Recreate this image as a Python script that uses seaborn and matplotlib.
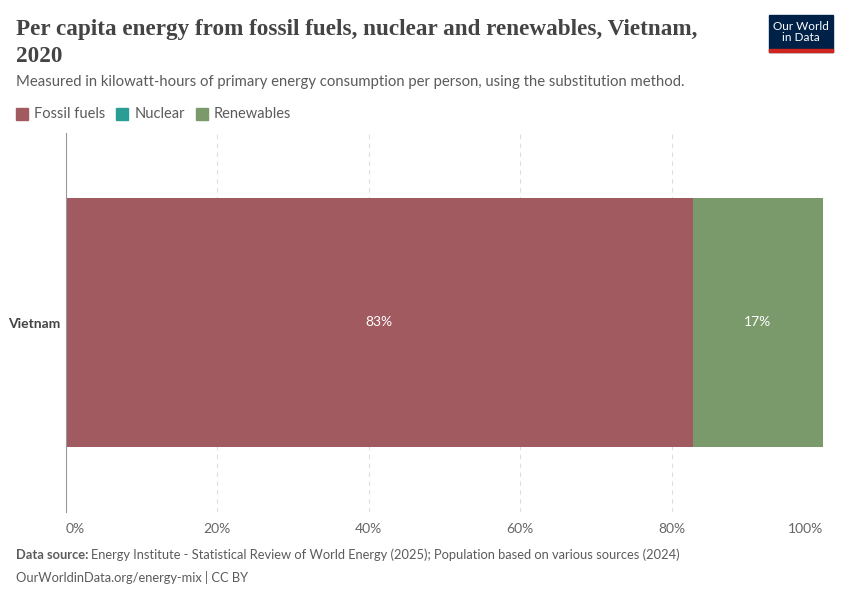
import matplotlib.pyplot as plt
import matplotlib.patches as mpatches
import pandas as pd
import seaborn as sns

country = ["Vietnam"]
fossil = [82.8]
nuclear = [0.0]
renewables = [17.2]
labels_fossil = ["83%"]
labels_renew = ["17%"]
tick_values = [0, 20, 40, 60, 80, 100]
tick_labels = ["0%", "20%", "40%", "60%", "80%", "100%"]

c_fossil = "#a05a60"
c_nuclear = "#2a9d94"
c_renew = "#7a9a6b"

df = pd.DataFrame({"country": country, "fossil": fossil, "nuclear": nuclear, "renewables": renewables})
df["fossil_nuclear"] = df["fossil"] + df["nuclear"]
df["total"] = df["fossil_nuclear"] + df["renewables"]

sns.set_style("white")
plt.rcParams["font.family"] = ["Lato", "DejaVu Sans"]

fig = plt.figure(figsize=(8.5, 6), dpi=100)
ax = fig.add_axes([66 / 850, 1 - 512 / 600, (823 - 66) / 850, (512 - 133) / 600])

# stacked bars: draw cumulative totals back to front
sns.barplot(data=df, x="total", y="country", color=c_renew, width=0.655, ax=ax, saturation=1)
sns.barplot(data=df, x="fossil_nuclear", y="country", color=c_nuclear, width=0.655, ax=ax, saturation=1)
sns.barplot(data=df, x="fossil", y="country", color=c_fossil, width=0.655, ax=ax, saturation=1)
for p in ax.patches:
    p.set_edgecolor("none")

for i, row in df.iterrows():
    ax.text(row["fossil"] / 2, i, labels_fossil[i], color="white", ha="center", va="center", fontsize=10)
    ax.text(row["fossil_nuclear"] + row["renewables"] / 2, i, labels_renew[i], color="white",
            ha="center", va="center", fontsize=10)

ax.set_xlim(0, 100)
ax.set_ylim(0.5, -0.5)
ax.set_xticks(tick_values)
ax.set_xticklabels(tick_labels, color="#666666", fontsize=10)
xt = ax.get_xticklabels()
xt[0].set_horizontalalignment("left")
xt[-1].set_horizontalalignment("right")
ax.tick_params(axis="x", length=0, pad=8)
ax.tick_params(axis="y", length=0, pad=4)
for lbl in ax.get_yticklabels():
    lbl.set_fontweight("bold")
    lbl.set_color("#444444")
    lbl.set_fontsize(10)
ax.set_xlabel("")
ax.set_ylabel("")
for x in tick_values[1:]:
    ax.axvline(x, color="#dddddd", linestyle=(0, (4, 4)), linewidth=0.8, zorder=0)
for s in ["top", "right", "bottom"]:
    ax.spines[s].set_visible(False)
ax.spines["left"].set_color("#999999")
ax.spines["left"].set_linewidth(0.8)
ax.set_axisbelow(True)

# title and subtitle
title_font = ["Liberation Serif", "DejaVu Serif"]
fig.text(16 / 850, 1 - 30 / 600, "Per capita energy from fossil fuels, nuclear and renewables, Vietnam,",
         family=title_font, fontsize=16.7, fontweight="bold", color="#444444", va="center")
fig.text(16 / 850, 1 - 56 / 600, "2020", family=title_font, fontsize=16.7, fontweight="bold",
         color="#444444", va="center")
fig.text(16 / 850, 1 - 82 / 600,
         "Measured in kilowatt-hours of primary energy consumption per person, using the substitution method.",
         fontsize=10.7, color="#5b5b5b", va="center")

# legend
legend_items = [("Fossil fuels", c_fossil), ("Nuclear", c_nuclear), ("Renewables", c_renew)]
x0 = 16
for name, col in legend_items:
    fig.patches.append(mpatches.Rectangle((x0 / 850, 1 - 120 / 600), 12 / 850, 12 / 600,
                                          transform=fig.transFigure, color=col))
    t = fig.text((x0 + 18) / 850, 1 - 114 / 600, name, fontsize=10.5, color="#5b5b5b", va="center")
    fig.canvas.draw()
    w = t.get_window_extent().width
    x0 += 18 + w + 11

# logo
fig.patches.append(mpatches.Rectangle((769 / 850, 1 - 52 / 600), 64 / 850, 37 / 600,
                                      transform=fig.transFigure, color="#002147"))
fig.patches.append(mpatches.Rectangle((769 / 850, 1 - 52 / 600), 64 / 850, 3 / 600,
                                      transform=fig.transFigure, color="#ce261e"))
fig.text(801 / 850, 1 - 32 / 600, "Our World\nin Data", color="white", fontsize=8.5, ha="center",
         va="center", linespacing=1.0)

# footer
fig.text(16 / 850, 1 - 555 / 600, "Data source:", fontsize=9.25, fontweight="bold", color="#5b5b5b", va="center")
fig.text(91 / 850, 1 - 555 / 600,
         "Energy Institute - Statistical Review of World Energy (2025); Population based on various sources (2024)",
         fontsize=9.25, color="#5b5b5b", va="center")
fig.text(16 / 850, 1 - 577 / 600, "OurWorldinData.org/energy-mix | CC BY", fontsize=9.25, color="#5b5b5b",
         va="center")

fig.savefig("out.png", dpi=100)
plt.close(fig)
